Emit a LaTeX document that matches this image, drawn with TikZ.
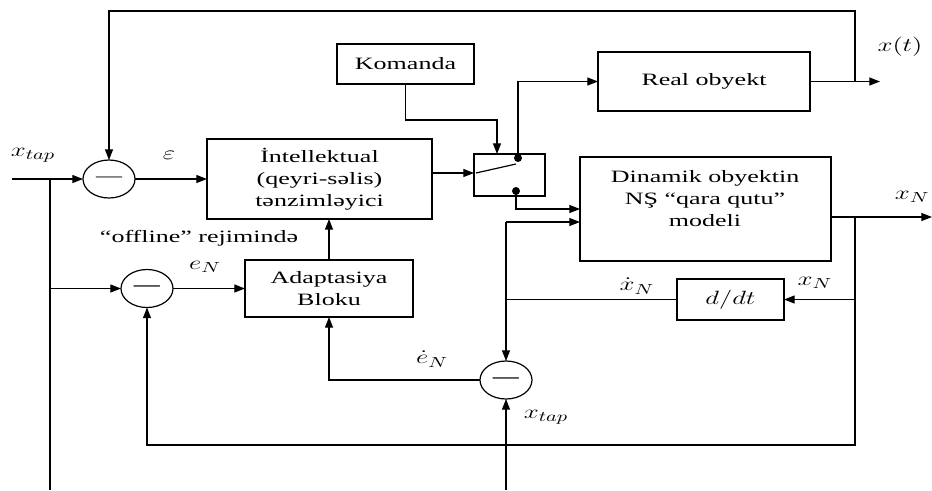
\documentclass[tikz,border=0pt]{standalone}
\usepackage{fontspec}
\setmainfont[FakeStretch=1.5]{Liberation Serif}
\usepackage{graphicx}
\usetikzlibrary{arrows.meta,shapes.geometric}

\newcommand{\wm}[1]{\scalebox{1.4}[1]{$#1$}}

\tikzset{every picture/.style={line width=0.9pt}}
\tikzset{
  blk/.style={draw, rectangle, inner sep=0pt, outer sep=0pt, align=center, font=\fontsize{13}{16.5}\selectfont},
  sumnode/.style={draw, ellipse, inner sep=0pt, outer sep=0pt, minimum width=39pt, minimum height=28.5pt, font=\fontsize{13}{16}\selectfont},
  arr/.style={-{Triangle[length=8pt,width=6pt]}},
  lbl/.style={inner sep=0.75pt, font=\fontsize{13}{16}\selectfont},
  mlbl/.style={inner sep=0.75pt, font=\fontsize{15}{18}\selectfont},
}

\begin{document}
\begin{tikzpicture}[x=0.75pt,y=0.75pt,yscale=-1,xscale=1]
\useasboundingbox (0,0) rectangle (932,490);

%Shape: Rectangle
\draw (319.5,179) node [blk, minimum width=168.75pt, minimum height=60pt] (intel) {İntellektual\\(qeyri-səlis)\\tənzimləyici};
%Shape: Rectangle
\draw (405.5,64) node [blk, minimum width=102.75pt, minimum height=30pt] (kom) {Komanda};
%Shape: Rectangle
\draw (509.5,175) node [blk, minimum width=53.25pt, minimum height=31.5pt] (sw) {};
%Shape: Rectangle
\draw (704,81.5) node [blk, minimum width=159pt, minimum height=44.25pt] (real) {Real obyekt};
%Shape: Rectangle
\draw (705.5,209) node [blk, minimum width=188.25pt, minimum height=78pt] (din) {};
%Shape: Rectangle
\draw (730.5,299.5) node [blk, minimum width=80.25pt, minimum height=30.75pt, font=\fontsize{15}{18}\selectfont] (ddt) {\wm{d/dt}};
%Shape: Rectangle
\draw (329,288.5) node [blk, minimum width=126pt, minimum height=42.75pt] (adapt) {Adaptasiya\\Bloku};

%Shape: Ellipse
\draw (109,179) node [sumnode] (sum1) {---};
%Shape: Ellipse
\draw (147,288.5) node [sumnode] (sum2) {\textbf{---}};
%Shape: Ellipse
\draw (506,380) node [sumnode] (sum3) {\textbf{---}};

\coordinate (xin) at (12,179);
\coordinate (br) at (50,179);
\coordinate (brend) at (50,490);
\coordinate (fbtop) at (855,11);
\coordinate (xtout) at (880,81.5);
\coordinate (swin) at (476,173);
\coordinate (lever) at (516,164);
\coordinate (ctop) at (518,158);
\coordinate (cbot) at (516,191);
\coordinate (kbend) at (497,120);
\coordinate (jtop) at (506,222);
\coordinate (xnout) at (932,217);
\coordinate (bx) at (855,217);
\coordinate (xtap2) at (506,490);

%Straight Lines
\draw [arr] (xin) -- (sum1.west);
\draw (br) -- (brend);
\draw [arr] (br |- sum2.west) -- (sum2.west);
\draw [arr] (sum1.east) -- (intel.west);
\draw [arr] (real.east -| fbtop) -- (fbtop) -| (sum1.north);
\draw [arr] (real.east) -- (xtout);
\draw [arr] (intel.east |- swin) -- (sw.west |- swin);
\draw (swin) -- (lever);
\fill (ctop) circle (3pt);
\fill (cbot) circle (3pt);
\draw [arr] (kom.south) |- (kbend) -- (kbend |- sw.north);
\draw [arr] (ctop) |- (real.west);
\draw [arr] (cbot) |- (din.west);
\draw [arr] (jtop) -- (jtop -| din.west);
\draw [arr] (jtop) -- (sum3.north);
\draw (ddt.west) -- (ddt.west -| jtop);
\draw [arr] (din.east |- xnout) -- (xnout);
\draw [arr] (bx |- ddt.east) -- (ddt.east);
\draw [arr] (bx) -- ++(0,228) -| (sum2.south);
\draw [arr] (xtap2) -- (sum3.south);
\draw [arr] (sum3.west) -| (adapt.south);
\draw [arr] (sum2.east) -- (adapt.west);
\draw [arr] (adapt.north) -- (adapt.north |- intel.south);

% Text Node
\draw (705,199) node [lbl, align=center, font=\fontsize{13}{16.5}\selectfont] (ldin) {Dinamik obyektin\\NŞ ``qara qutu''\\modeli};
% Text Node
\draw (33,155) node [mlbl] (lxtap) {\wm{x_{tap}}};
% Text Node
\draw (169,155) node [mlbl] (leps) {\wm{\varepsilon}};
% Text Node
\draw (199,238) node [lbl] (loff) {``offline'' rejimində};
% Text Node
\draw (205,267) node [mlbl] (len) {\wm{e_N}};
% Text Node
\draw (432,359) node [mlbl] (lend) {\wm{\dot e_N}};
% Text Node
\draw (637,286) node [mlbl] (lxnd) {\wm{\dot x_N}};
% Text Node
\draw (815,283) node [mlbl] (lxn) {\wm{x_N}};
% Text Node
\draw (546,417) node [mlbl] (lxtap2) {\wm{x_{tap}}};
% Text Node
\draw (900,47) node [mlbl] (lxt) {\wm{x(t)}};
% Text Node
\draw (931,197) node [mlbl, anchor=east] (lxnr) {\wm{x_N}};

\end{tikzpicture}
\end{document}
